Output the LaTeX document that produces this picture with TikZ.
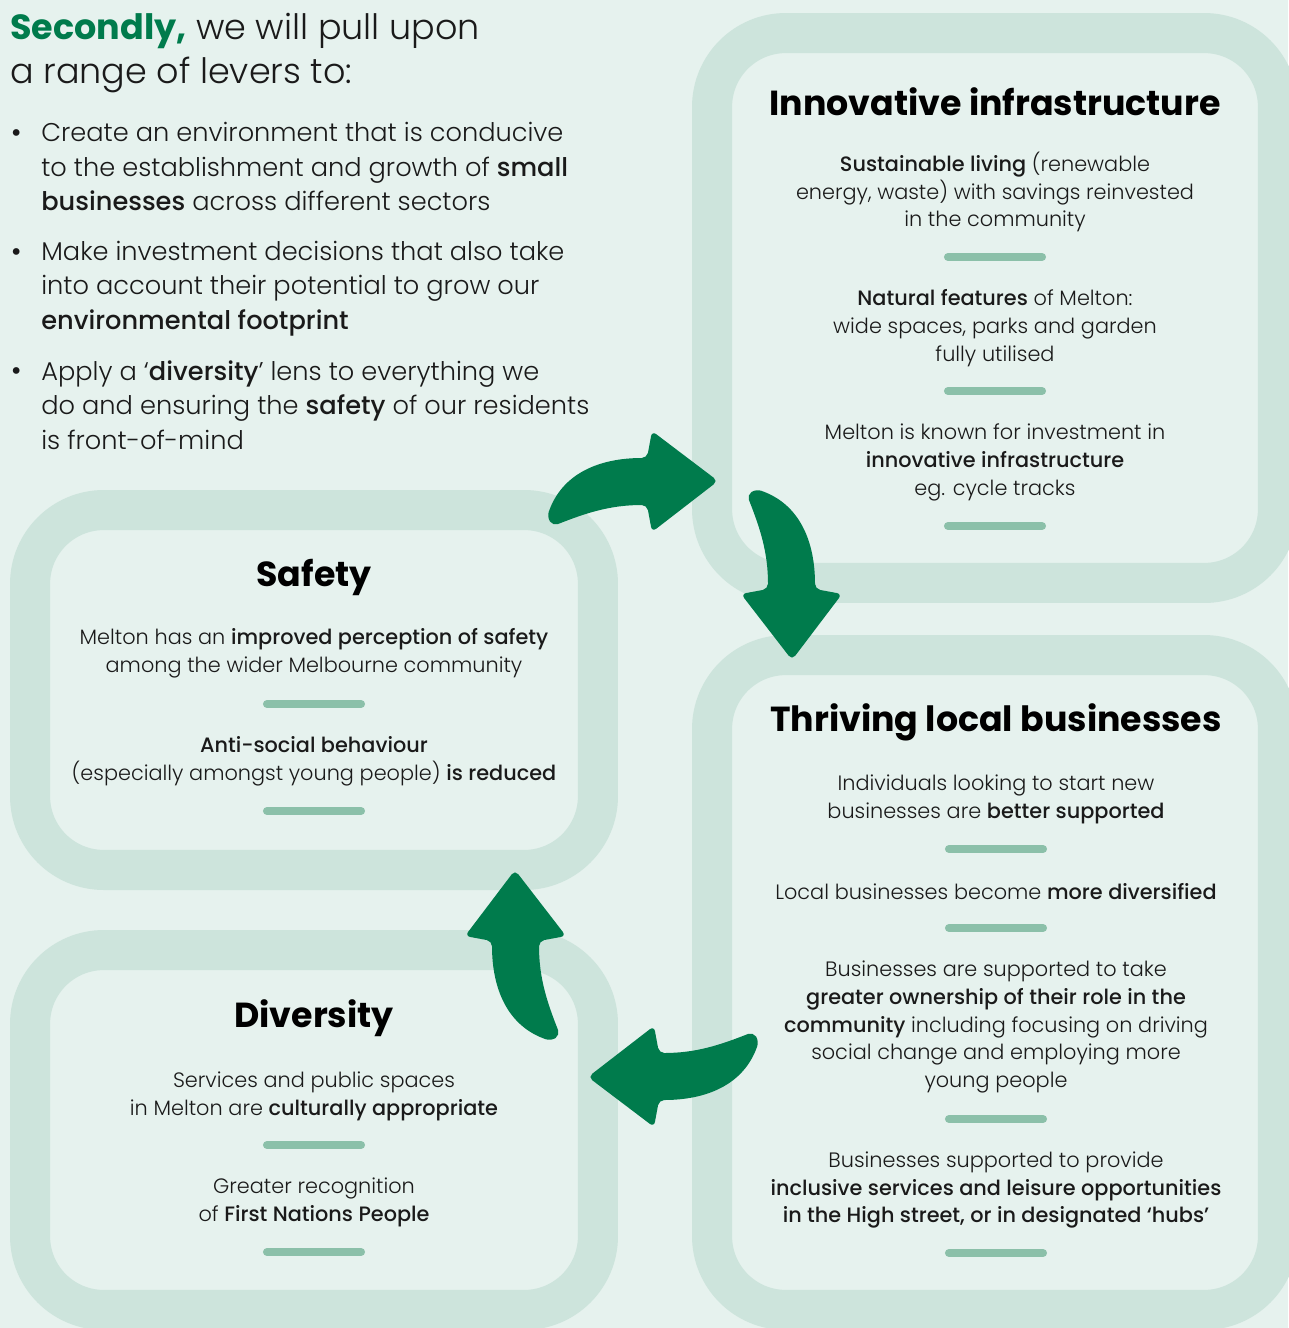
\documentclass[tikz,border=0pt]{standalone}
\usepackage{fontspec}
\setmainfont{Poppins Light}[BoldFont=Poppins Medium]
\newfontfamily\headfont{Poppins Bold}
\usetikzlibrary{positioning}

\definecolor{mintBg}{HTML}{E6F2EE}
\definecolor{mintRing}{HTML}{CDE4DC}
\definecolor{mintBar}{HTML}{8BC0A9}
\definecolor{leverGreen}{HTML}{007B4C}
\definecolor{inkText}{HTML}{1A1A1A}

\begin{document}
\begin{tikzpicture}[x=0.02cm,y=-0.02cm,
    ring/.style={draw=mintRing,fill=mintBg,line width=22.8pt,rounded corners=42pt,inner sep=0pt},
    bodyTxt/.style={align=center,inner sep=0pt,text=inkText,font=\fontsize{11.85}{15.9}\selectfont},
    boxTitle/.style={inner sep=0pt,text=black,font=\headfont\fontsize{19.8}{24}\selectfont},
    leftTxt/.style={align=left,anchor=west,inner sep=0pt,text=inkText,font=\fontsize{14.6}{19.6}\selectfont},
    divider/.style={mintBar,line width=4.6pt,line cap=round},
    lever/.pic={\fill[leverGreen,rounded corners=3pt] (0,0) -- (-66,-50) -- (-71,-23)
        .. controls (-118,-23) and (-156,-8) .. (-171,36) -- (-165,45)
        .. controls (-132,32) and (-108,24) .. (-71,24) -- (-66,51) -- cycle;}]

    \fill[mintBg] (0,0) rectangle (1288,1328);
    \useasboundingbox (0,0) rectangle (1288,1328);

    % the four boxes
    \node[ring,minimum width=11.32cm,minimum height=11cm] (infraBox) at (995,308) {};
    \node[ring,minimum width=11.32cm,minimum height=13.1cm] (thrivingBox) at (995,982.5) {};
    \node[ring,minimum width=11.36cm,minimum height=7.2cm] (safetyBox) at (314,690) {};
    \node[ring,minimum width=11.36cm,minimum height=7.2cm] (diversityBox) at (314,1130) {};

    % heading and levers
    \node[leftTxt,font=\fontsize{19.9}{25}\selectfont] (heading) at (10,53) {{\headfont\color{leverGreen}Secondly,} we will pull upon\\a range of levers to:};

    \node[leftTxt] (leverOne) at (41,166.5) {Create an environment that is conducive\\to the establishment and growth of \textbf{small}\\\textbf{businesses} across different sectors};
    \node[leftTxt] (leverTwo) at (41,288.5) {Make investment decisions that also take\\into account their potential to grow our\\\textbf{environmental footprint}};
    \node[leftTxt] (leverThree) at (41,405) {Apply a ‘\textbf{diversity}’ lens to everything we\\do and ensuring the \textbf{safety} of our residents\\is front-of-mind};
    \node[leftTxt] (dotOne) at (10,136) {\textbf{•}};
    \node[leftTxt] (dotTwo) at (10,255) {\textbf{•}};
    \node[leftTxt] (dotThree) at (10,374) {\textbf{•}};

    % innovative infrastructure
    \node[boxTitle] (infraTitle) at (995,102) {Innovative infrastructure};
    \node[bodyTxt] (infraA) at (995,192) {\textbf{Sustainable living} (renewable\\energy, waste) with savings reinvested\\in the community};
    \node[bodyTxt] (infraB) at (995,328) {\textbf{Natural features} of Melton:\\wide spaces, parks and garden\\fully utilised};
    \node[bodyTxt] (infraC) at (995,462) {Melton is known for investment in\\\textbf{innovative infrastructure}\\eg. cycle tracks};
    \draw[divider] (948,257) -- (1042,257);
    \draw[divider] (948,391) -- (1042,391);
    \draw[divider] (948,526) -- (1042,526);

    % thriving local businesses
    \node[boxTitle] (thrivingTitle) at (996,722) {Thriving local businesses};
    \node[bodyTxt] (thrivingA) at (996,799) {Individuals looking to start new\\businesses are \textbf{better supported}};
    \node[bodyTxt] (thrivingB) at (996,892) {Local businesses become \textbf{more diversified}};
    \node[bodyTxt] (thrivingC) at (996,1027) {Businesses are supported to take\\\textbf{greater ownership of their role in the}\\\textbf{community} including focusing on driving\\social change and employing more\\young people};
    \node[bodyTxt] (thrivingD) at (996,1190) {Businesses supported to provide\\\textbf{inclusive services and leisure opportunities}\\\textbf{in the High street, or in designated ‘hubs’}};
    \draw[divider] (949,849) -- (1043,849);
    \draw[divider] (949,928) -- (1043,928);
    \draw[divider] (949,1119) -- (1043,1119);
    \draw[divider] (949,1253) -- (1043,1253);

    % safety
    \node[boxTitle] (safetyTitle) at (314,577) {Safety};
    \node[bodyTxt] (safetyA) at (314,653) {Melton has an \textbf{improved perception of safety}\\among the wider Melbourne community};
    \node[bodyTxt] (safetyB) at (314,761) {\textbf{Anti-social behaviour}\\(especially amongst young people) \textbf{is reduced}};
    \draw[divider] (267,704) -- (361,704);
    \draw[divider] (267,811) -- (361,811);

    % diversity
    \node[boxTitle] (diversityTitle) at (314,1018) {Diversity};
    \node[bodyTxt] (diversityA) at (314,1096) {Services and public spaces\\in Melton are \textbf{culturally appropriate}};
    \node[bodyTxt] (diversityB) at (314,1202) {Greater recognition\\of \textbf{First Nations People}};
    \draw[divider] (267,1145) -- (361,1145);
    \draw[divider] (267,1252) -- (361,1252);

    % cycle arrows
    \pic at (718,481) {lever};
    \pic[rotate=-90] at (792,660) {lever};
    \pic[rotate=180] at (588,1077) {lever};
    \pic[rotate=90] at (515,870) {lever};

\end{tikzpicture}
\end{document}
